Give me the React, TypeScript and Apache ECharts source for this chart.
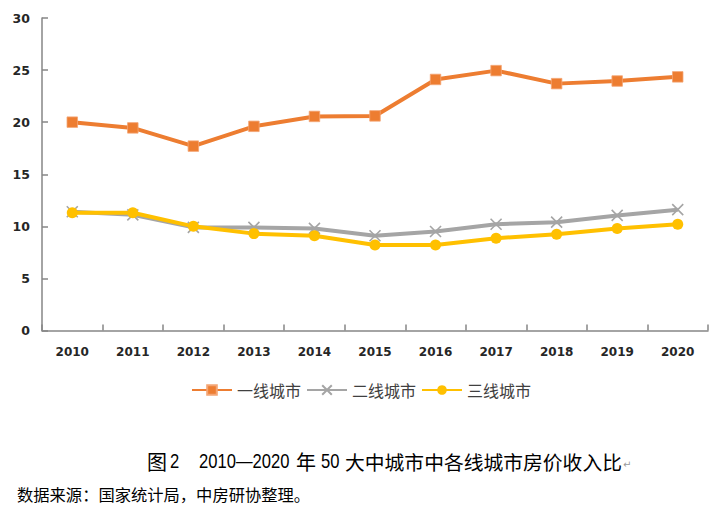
import React, { useEffect, useRef } from "react";
import * as echarts from "echarts";

const years = ["2010", "2011", "2012", "2013", "2014", "2015", "2016", "2017", "2018", "2019", "2020"];
const tier1 = [20.0, 19.45, 17.7, 19.6, 20.55, 20.6, 24.1, 24.95, 23.7, 23.95, 24.35];
const tier2 = [11.4, 11.1, 9.9, 9.9, 9.8, 9.1, 9.5, 10.2, 10.4, 11.05, 11.6];
const tier3 = [11.3, 11.3, 10.0, 9.3, 9.1, 8.2, 8.2, 8.85, 9.25, 9.8, 10.2];
const seriesNames = ["一线城市", "二线城市", "三线城市"];
const captionParts = ["图", "2", "2010—2020", "年", "50", "大中城市中各线城市房价收入比"];
const sourceNote = "数据来源：国家统计局，中房研协整理。";

const CJK = '"Noto Sans CJK SC", "Noto Sans", sans-serif';
const NUM = '"DejaVu Sans", Verdana, sans-serif';
const ARIAL = '"Liberation Sans", Arial, sans-serif';

export default function App() {
  const ref = useRef<HTMLDivElement>(null);
  useEffect(() => {
    if (!ref.current) return;
    const chart = echarts.init(ref.current, undefined, { renderer: "svg" });
    const cross = "path://M0,0 L10,10 M10,0 L0,10";
    const capY = 461;
    const cjkText = (x: number, text: string, size: number) => ({
      type: "text",
      x,
      y: capY,
      style: { text, fontFamily: CJK, fontSize: size, fill: "#000000", verticalAlign: "middle" },
    });
    const numText = (x: number, text: string) => ({
      type: "text",
      x,
      y: capY,
      scaleX: 0.83,
      style: { text, fontFamily: ARIAL, fontSize: 20, fill: "#000000", verticalAlign: "middle" },
    });
    chart.setOption({
      animation: false,
      backgroundColor: "#ffffff",
      grid: { left: 42, right: 14, top: 18, bottom: 183.5, containLabel: false },
      legend: {
        left: "center",
        top: 377,
        itemWidth: 40,
        itemHeight: 12,
        itemGap: 5,
        textStyle: { fontFamily: CJK, fontSize: 16, color: "#404040" },
        data: seriesNames,
      },
      xAxis: {
        type: "category",
        data: years,
        boundaryGap: true,
        axisLine: { show: true, lineStyle: { color: "#868686", width: 1.5 } },
        axisTick: { show: true, inside: true, length: 6, lineStyle: { color: "#868686", width: 1.5 } },
        axisLabel: { margin: 15, fontFamily: NUM, fontSize: 12, fontWeight: "bold", color: "#262626" },
        splitLine: { show: false },
      },
      yAxis: {
        type: "value",
        min: 0,
        max: 30,
        interval: 5,
        axisLine: { show: true, lineStyle: { color: "#868686", width: 1.5 } },
        axisTick: { show: true, inside: true, length: 6, lineStyle: { color: "#868686", width: 1.5 } },
        axisLabel: { margin: 12, fontFamily: NUM, fontSize: 12.5, fontWeight: "bold", color: "#262626" },
        splitLine: { show: false },
      },
      series: [
        {
          name: seriesNames[0],
          type: "line",
          data: tier1,
          symbol: "rect",
          symbolSize: 10.5,
          lineStyle: { color: "#ED7D31", width: 4 },
          itemStyle: { color: "#ED7D31", borderColor: "#F4A574", borderWidth: 0.8 },
        },
        {
          name: seriesNames[1],
          type: "line",
          data: tier2,
          symbol: cross,
          symbolSize: 11,
          lineStyle: { color: "#A5A5A5", width: 4 },
          itemStyle: { color: "#A5A5A5", borderColor: "#A5A5A5", borderWidth: 1.6 },
        },
        {
          name: seriesNames[2],
          type: "line",
          data: tier3,
          symbol: "circle",
          symbolSize: 11,
          lineStyle: { color: "#FFC000", width: 4 },
          itemStyle: { color: "#FFC000", borderWidth: 0 },
        },
      ],
      graphic: [
        cjkText(147, captionParts[0], 20),
        numText(170, captionParts[1]),
        numText(199, captionParts[2]),
        cjkText(296, captionParts[3], 20),
        numText(321, captionParts[4]),
        cjkText(345, captionParts[5], 19.8),
        {
          type: "text",
          x: 623,
          y: capY + 3,
          style: { text: "↵", fontFamily: NUM, fontSize: 10, fill: "#9a9a9a", verticalAlign: "middle" },
        },
        {
          type: "text",
          x: 17,
          y: 494,
          style: { text: sourceNote, fontFamily: CJK, fontSize: 16.3, fill: "#000000", verticalAlign: "middle" },
        },
      ],
    });
    return () => chart.dispose();
  }, []);
  return <div ref={ref} style={{ width: 722, height: 514, position: "absolute", left: 0, top: 0 }} />;
}
